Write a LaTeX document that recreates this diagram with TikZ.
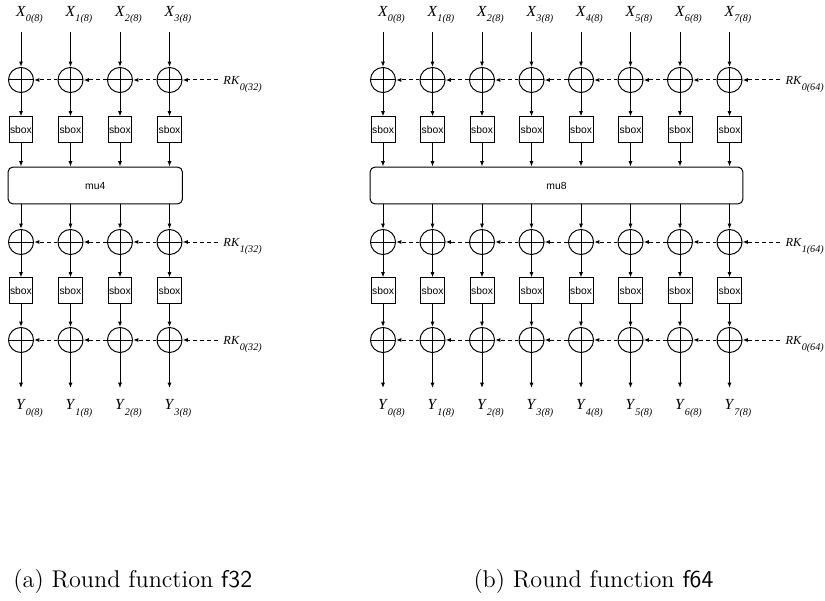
\documentclass[tikz,border=0pt]{standalone}
\usepackage{fontspec}
\usetikzlibrary{arrows.meta}
\newfontfamily\figfont{Liberation Serif}
\newfontfamily\boxfont{Liberation Sans}
\newcommand{\sublbl}[2]{\textit{#1}\rlap{\raisebox{-2.5pt}{\fontsize{4.6}{5}\selectfont\textit{#2}}}}

\begin{document}
\begin{tikzpicture}[
  x=0.4545pt, y=-0.4545pt,
  line width=0.45pt,
  arr/.style={-{Latex[length=2.4pt,width=1.8pt]}},
  key/.style={arr, dash pattern=on 1.8pt off 1.3pt},
  xor/.style={circle, draw, minimum size=11.4pt, inner sep=0pt,
    path picture={\draw (path picture bounding box.north) -- (path picture bounding box.south)
      (path picture bounding box.west) -- (path picture bounding box.east);}},
  sbox/.style={rectangle, draw, minimum width=10.9pt, minimum height=11.4pt, inner sep=0pt, font=\boxfont\fontsize{4.7}{5}\selectfont},
  mu/.style={rectangle, draw, rounded corners=2.3pt, minimum height=16.8pt, inner sep=0pt, font=\boxfont\fontsize{4.7}{5}\selectfont},
  lbl/.style={inner sep=3.5pt, font=\figfont\fontsize{7}{8}\selectfont},
  ylbl/.style={lbl, anchor=north, inner sep=5pt},
  rk/.style={lbl, anchor=mid west, inner sep=2.5pt, font=\figfont\fontsize{5.6}{7}\selectfont},
  subcap/.style={anchor=base west, inner sep=0pt, font=\fontsize{11}{13}\selectfont},
]
\useasboundingbox (0,0) rectangle (825,601);

% (a) f32
\foreach \i in {0,...,3} {
  \pgfmathsetmacro{\cx}{21+49.5*\i}
  \node[lbl, anchor=south] (a-x\i) at (\cx,32) {\sublbl{X}{\i(8)}};
  \node[xor] (a-k1-\i) at (\cx,80) {};
  \node[sbox] (a-s1-\i) at (\cx,129.5) {sbox};
  \node[xor] (a-k2-\i) at (\cx,242) {};
  \node[sbox] (a-s2-\i) at (\cx,290.5) {sbox};
  \node[xor] (a-k3-\i) at (\cx,340) {};
  \node[ylbl] (a-y\i) at (\cx,388) {\sublbl{Y}{\i(8)}};
}
\node[mu, minimum width=79.3pt] (a-mu) at (95.25,185.5) {mu4};
\node[rk] (a-rk1) at (217.5,80) {\sublbl{RK}{0(32)}};
\node[rk] (a-rk2) at (217.5,242) {\sublbl{RK}{1(32)}};
\node[rk] (a-rk3) at (217.5,340) {\sublbl{RK}{0(32)}};

\foreach \i in {0,...,3} {
  \draw[arr] (a-x\i) -- (a-k1-\i);
  \draw[arr] (a-k1-\i) -- (a-s1-\i);
  \draw[arr] (a-s1-\i) -- (a-mu.north -| a-s1-\i);
  \draw[arr] (a-mu.south -| a-k2-\i) -- (a-k2-\i);
  \draw[arr] (a-k2-\i) -- (a-s2-\i);
  \draw[arr] (a-s2-\i) -- (a-k3-\i);
  \draw[arr] (a-k3-\i) -- (a-y\i);
}
\foreach \r in {1,2,3} {
  \draw[key] (a-rk\r.mid west) -- (a-k\r-3);
  \foreach \i/\j in {3/2,2/1,1/0}
    \draw[key] (a-k\r-\i) -- (a-k\r-\j);
}

% (b) f64
\foreach \i in {0,...,7} {
  \pgfmathsetmacro{\cx}{383+49.5*\i}
  \node[lbl, anchor=south] (b-x\i) at (\cx,32) {\sublbl{X}{\i(8)}};
  \node[xor] (b-k1-\i) at (\cx,80) {};
  \node[sbox] (b-s1-\i) at (\cx,129.5) {sbox};
  \node[xor] (b-k2-\i) at (\cx,242) {};
  \node[sbox] (b-s2-\i) at (\cx,290.5) {sbox};
  \node[xor] (b-k3-\i) at (\cx,340) {};
  \node[ylbl] (b-y\i) at (\cx,388) {\sublbl{Y}{\i(8)}};
}
\node[mu, minimum width=169.5pt] (b-mu) at (556.5,185.5) {mu8};
\node[rk] (b-rk1) at (779.5,80) {\sublbl{RK}{0(64)}};
\node[rk] (b-rk2) at (779.5,242) {\sublbl{RK}{1(64)}};
\node[rk] (b-rk3) at (779.5,340) {\sublbl{RK}{0(64)}};

\foreach \i in {0,...,7} {
  \draw[arr] (b-x\i) -- (b-k1-\i);
  \draw[arr] (b-k1-\i) -- (b-s1-\i);
  \draw[arr] (b-s1-\i) -- (b-mu.north -| b-s1-\i);
  \draw[arr] (b-mu.south -| b-k2-\i) -- (b-k2-\i);
  \draw[arr] (b-k2-\i) -- (b-s2-\i);
  \draw[arr] (b-s2-\i) -- (b-k3-\i);
  \draw[arr] (b-k3-\i) -- (b-y\i);
}
\foreach \r in {1,2,3} {
  \draw[key] (b-rk\r.mid west) -- (b-k\r-7);
  \foreach \i/\j in {7/6,6/5,5/4,4/3,3/2,2/1,1/0}
    \draw[key] (b-k\r-\i) -- (b-k\r-\j);
}

\node[subcap] (cap-a) at (13,587) {(a) Round function \textsf{f32}};
\node[subcap] (cap-b) at (473,587) {(b) Round function \textsf{f64}};
\end{tikzpicture}
\end{document}
